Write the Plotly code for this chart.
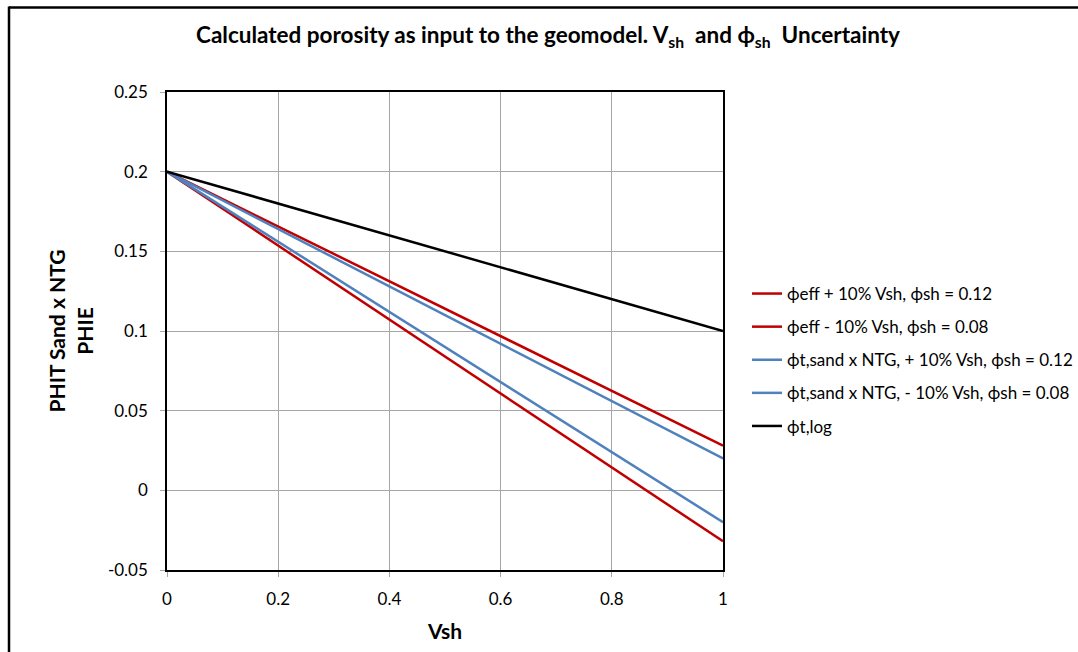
import plotly.graph_objects as go

# Shale volume at the ends of each straight line
vsh = [0, 1]

# Porosity values at Vsh = 0 and Vsh = 1
phieff_plus = [0.2, -0.032]      # ϕeff + 10% Vsh, ϕsh = 0.12
phieff_minus = [0.2, 0.028]      # ϕeff - 10% Vsh, ϕsh = 0.08
phit_ntg_plus = [0.2, -0.02]     # ϕt,sand x NTG, + 10% Vsh, ϕsh = 0.12
phit_ntg_minus = [0.2, 0.02]     # ϕt,sand x NTG, - 10% Vsh, ϕsh = 0.08
phit_log = [0.2, 0.1]            # ϕt,log

names = [
    "ϕeff + 10% Vsh, ϕsh = 0.12",
    "ϕeff - 10% Vsh, ϕsh = 0.08",
    "ϕt,sand x NTG, + 10% Vsh, ϕsh = 0.12",
    "ϕt,sand x NTG, - 10% Vsh, ϕsh = 0.08",
    "ϕt,log",
]
series = [phieff_plus, phieff_minus, phit_ntg_plus, phit_ntg_minus, phit_log]
colors = ["#C00000", "#C00000", "#4F81BD", "#4F81BD", "#000000"]

# Axis ticks
x_tickvals = [0, 0.2, 0.4, 0.6, 0.8, 1]
x_ticktext = ["0", "0.2", "0.4", "0.6", "0.8", "1"]
y_tickvals = [-0.05, 0, 0.05, 0.1, 0.15, 0.2, 0.25]
y_ticktext = ["-0.05", "0", "0.05", "0.1", "0.15", "0.2", "0.25"]

FONT = "Lato"

fig = go.Figure()
for i, (nm, ys, c) in enumerate(zip(names, series, colors)):
    fig.add_trace(go.Scatter(
        x=vsh, y=ys, mode="lines", name=nm,
        line=dict(color=c, width=2.5),
        legendgroup=f"g{i}",
    ))

W, H = 1078, 652
L, R, T, B = 167, 355, 92, 82
pw, ph = W - L - R, H - T - B

def px_x(p):
    return (p - L) / pw

def px_y(p):
    return (H - B - p) / ph

fig.update_layout(
    width=W, height=H,
    margin=dict(l=L, r=R, t=T, b=B, autoexpand=False),
    paper_bgcolor="white", plot_bgcolor="white",
    font=dict(family=FONT, size=17, color="#000000"),
    title=dict(
        text="<b>Calculated porosity as input to the geomodel. V<sub>sh</sub>  and ϕ<sub>sh</sub>  Uncertainty</b>",
        xref="container", x=548 / W, xanchor="center",
        yref="container", y=1 - 35 / H, yanchor="middle",
        font=dict(family=FONT, size=22.5),
    ),
    xaxis=dict(
        range=[0, 1], tickvals=x_tickvals, ticktext=x_ticktext,
        showgrid=True, gridcolor="#A6A6A6", gridwidth=1,
        showline=True, linecolor="#000000", linewidth=1.5, mirror=True,
        ticks="outside", ticklen=5, tickcolor="#A6A6A6",
        ticklabelstandoff=8,
        zeroline=False,
        tickfont=dict(size=17),
        title=dict(text="<b>Vsh</b>", font=dict(size=21), standoff=16),
    ),
    yaxis=dict(
        range=[-0.05, 0.25], tickvals=y_tickvals, ticktext=y_ticktext,
        showgrid=True, gridcolor="#A6A6A6", gridwidth=1,
        showline=True, linecolor="#000000", linewidth=1.5, mirror=True,
        ticks="outside", ticklen=5, tickcolor="#A6A6A6",
        ticklabelstandoff=9,
        zeroline=False,
        tickfont=dict(size=17),
        title=dict(text="<b>PHIT Sand x NTG<br>PHIE</b>", font=dict(size=21), standoff=9),
    ),
    legend=dict(
        x=px_x(747), xanchor="left", y=px_y(276), yanchor="top",
        font=dict(family=FONT, size=17),
        tracegroupgap=8,
        itemwidth=30,
        bgcolor="rgba(0,0,0,0)",
    ),
    showlegend=True,
)

# Frame lines along the top and left edges of the page
fig.add_shape(type="line", xref="paper", yref="paper",
              x0=px_x(9), x1=px_x(W + 5), y0=px_y(7.5), y1=px_y(7.5),
              line=dict(color="#000000", width=2.5))
fig.add_shape(type="line", xref="paper", yref="paper",
              x0=px_x(9), x1=px_x(9), y0=px_y(6.5), y1=px_y(H + 5),
              line=dict(color="#000000", width=2.5))

fig.write_html("out.html")
